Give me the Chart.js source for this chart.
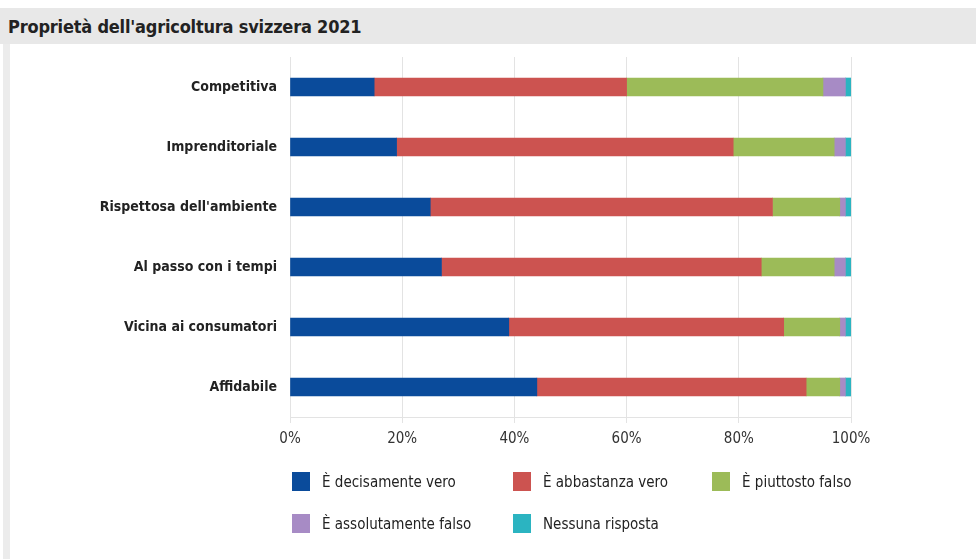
<!DOCTYPE html>
<html lang="it">
<head>
<meta charset="utf-8">
<title>Proprietà dell'agricoltura svizzera 2021</title>
<script src="https://cdn.jsdelivr.net/npm/chart.js@4/dist/chart.umd.min.js"></script>
<style>
    body { margin: 0; width: 976px; height: 559px; background: #fff; position: relative; overflow: hidden;
           font-family: 'Liberation Sans Narrow', 'DejaVu Sans Condensed', 'Liberation Sans', sans-serif; }
    #header { position: absolute; left: 0; top: 8px; width: 976px; height: 36px; background: #e8e8e8; }
    #header h1 { margin: 0; position: absolute; left: 8px; top: 8px; font-size: 18px; font-weight: bold; color: #222; letter-spacing: -0.2px; }
    #side { position: absolute; left: 3px; top: 44px; width: 7px; height: 515px; background: #ececec; }
    #wrap { position: absolute; left: 0; top: 0; width: 976px; height: 559px; }
    #legend { position: absolute; left: 292px; top: 472px; width: 640px; }
    .item { position: absolute; display: flex; align-items: center; font-size: 15px; color: #222; white-space: nowrap; }
    .box { width: 18px; height: 19px; margin-right: 12px; }
</style>
</head>
<body>
<div id="header"><h1>Proprietà dell'agricoltura svizzera 2021</h1></div>
<div id="side"></div>
<div id="wrap"><canvas id="chart"></canvas></div>
<div id="legend"></div>
<script>
    // Categorie e risposte (percentuali)
    const categories = ['Competitiva', 'Imprenditoriale', "Rispettosa dell'ambiente", 'Al passo con i tempi', 'Vicina ai consumatori', 'Affidabile'];
    const seriesNames = ['È decisamente vero', 'È abbastanza vero', 'È piuttosto falso', 'È assolutamente falso', 'Nessuna risposta'];
    const decisamenteVero = [15, 19, 25, 27, 39, 44];
    const abbastanzaVero = [45, 60, 61, 57, 49, 48];
    const piuttostoFalso = [35, 18, 12, 13, 10, 6];
    const assolutamenteFalso = [4, 2, 1, 2, 1, 1];
    const nessunaRisposta = [1, 1, 1, 1, 1, 1];
    const xTicks = [0, 20, 40, 60, 80, 100];
    const colors = ['#0a4b9b', '#cc5350', '#9cbb58', '#a78bc5', '#2bb4c1'];

    const values = [decisamenteVero, abbastanzaVero, piuttostoFalso, assolutamenteFalso, nessunaRisposta];
    const fontFamily = "'Liberation Sans Narrow', 'DejaVu Sans Condensed', 'Liberation Sans', sans-serif";

    const datasets = seriesNames.map((name, i) => ({
        label: name,
        data: values[i],
        backgroundColor: colors[i],
        barThickness: 18,
        borderWidth: 0
    }));

    new Chart(document.getElementById('chart'), {
        type: 'bar',
        data: { labels: categories, datasets: datasets },
        options: {
            indexAxis: 'y',
            responsive: true,
            maintainAspectRatio: false,
            animation: false,
            layout: { padding: { top: 57, right: 125, bottom: 112, left: 0 } },
            plugins: { legend: { display: false }, tooltip: { enabled: false } },
            scales: {
                x: {
                    stacked: true,
                    min: 0,
                    max: 100,
                    afterBuildTicks: axis => { axis.ticks = xTicks.map(v => ({ value: v })); },
                    afterFit: axis => { axis.height = 30; },
                    grid: { color: '#e3e3e3', tickLength: 6, tickColor: '#e3e3e3' },
                    border: { display: true, color: '#e3e3e3' },
                    ticks: {
                        padding: 7,
                        color: '#333',
                        font: { family: fontFamily, size: 15 },
                        callback: v => v + '%'
                    }
                },
                y: {
                    stacked: true,
                    afterFit: axis => { axis.width = 290; },
                    grid: { display: false, drawTicks: false },
                    border: { display: false },
                    ticks: {
                        padding: 13,
                        color: '#222',
                        font: { family: fontFamily, size: 14, weight: 'bold' }
                    }
                }
            }
        }
    });

    // Legenda su due righe, tre colonne
    const legendPos = [[0, 0], [221, 0], [420, 0], [0, 42], [221, 42]];
    const legend = document.getElementById('legend');
    seriesNames.forEach((name, i) => {
        const item = document.createElement('div');
        item.className = 'item';
        item.style.left = legendPos[i][0] + 'px';
        item.style.top = legendPos[i][1] + 'px';
        item.innerHTML = `<span class="box" style="background:${colors[i]}"></span>${name}`;
        legend.appendChild(item);
    });
</script>
</body>
</html>
